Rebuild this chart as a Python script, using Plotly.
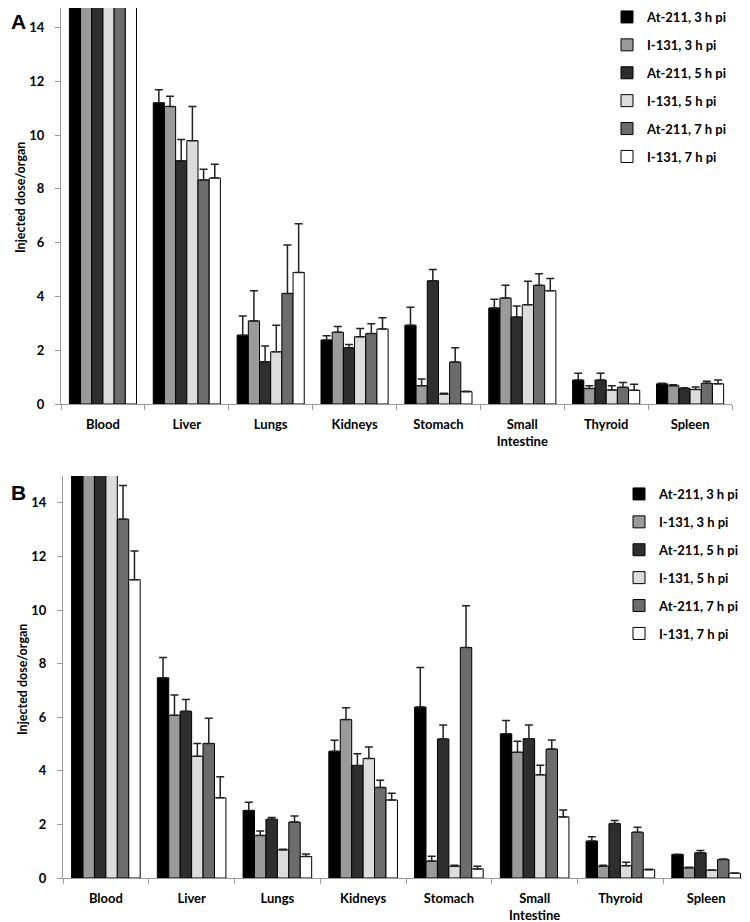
import plotly.graph_objects as go

categories = ["Blood", "Liver", "Lungs", "Kidneys", "Stomach", "Small<br>Intestine", "Thyroid", "Spleen"]
series_names = ["At-211, 3 h pi", "I-131, 3 h pi", "At-211, 5 h pi", "I-131, 5 h pi", "At-211, 7 h pi", "I-131, 7 h pi"]
series_colors = ["#000000", "#9a9a9a", "#2e2e2e", "#dcdcdc", "#6c6c6c", "#ffffff"]

# Panel A values (mean) and upper error bar lengths
a_at3 = [14.98, 11.20, 2.56, 2.38, 2.93, 3.57, 0.89, 0.75]
a_at3_err = [1.0, 0.48, 0.71, 0.16, 0.67, 0.32, 0.25, 0.02]
a_i3 = [18.0, 11.06, 3.09, 2.67, 0.68, 3.94, 0.58, 0.68]
a_i3_err = [1.0, 0.38, 1.12, 0.21, 0.25, 0.47, 0.10, 0.04]
a_at5 = [17.5, 9.04, 1.57, 2.09, 4.58, 3.23, 0.89, 0.58]
a_at5_err = [1.0, 0.79, 0.59, 0.12, 0.42, 0.41, 0.25, 0.02]
a_i5 = [17.0, 9.79, 1.94, 2.50, 0.37, 3.69, 0.52, 0.54]
a_i5_err = [1.0, 1.27, 0.99, 0.31, 0.03, 0.87, 0.16, 0.09]
a_at7 = [17.5, 8.33, 4.11, 2.62, 1.56, 4.41, 0.62, 0.77]
a_at7_err = [1.0, 0.40, 1.80, 0.36, 0.53, 0.43, 0.18, 0.08]
a_i7 = [16.5, 8.40, 4.89, 2.79, 0.46, 4.21, 0.51, 0.75]
a_i7_err = [1.0, 0.51, 1.81, 0.42, 0.01, 0.46, 0.22, 0.14]

# Panel B values (mean) and upper error bar lengths
b_at3 = [19.0, 7.47, 2.52, 4.73, 6.38, 5.38, 1.38, 0.88]
b_at3_err = [1.0, 0.76, 0.31, 0.41, 1.47, 0.50, 0.16, 0.01]
b_i3 = [19.0, 6.07, 1.59, 5.91, 0.63, 4.69, 0.44, 0.38]
b_i3_err = [1.0, 0.76, 0.16, 0.44, 0.18, 0.41, 0.04, 0.02]
b_at5 = [18.0, 6.22, 2.19, 4.20, 5.19, 5.20, 2.03, 0.94]
b_at5_err = [1.0, 0.44, 0.07, 0.44, 0.52, 0.51, 0.12, 0.09]
b_i5 = [17.0, 4.54, 1.05, 4.46, 0.44, 3.85, 0.46, 0.29]
b_i5_err = [1.0, 0.48, 0.02, 0.43, 0.04, 0.36, 0.13, 0.01]
b_at7 = [13.39, 5.02, 2.09, 3.38, 8.60, 4.81, 1.71, 0.69]
b_at7_err = [1.26, 0.94, 0.22, 0.27, 1.56, 0.34, 0.18, 0.02]
b_i7 = [11.13, 2.99, 0.80, 2.91, 0.34, 2.28, 0.31, 0.18]
b_i7_err = [1.07, 0.79, 0.10, 0.25, 0.10, 0.26, 0.02, 0.01]

y_ticks = [0, 2, 4, 6, 8, 10, 12, 14]

panel_a = [(a_at3, a_at3_err), (a_i3, a_i3_err), (a_at5, a_at5_err),
           (a_i5, a_i5_err), (a_at7, a_at7_err), (a_i7, a_i7_err)]
panel_b = [(b_at3, b_at3_err), (b_i3, b_i3_err), (b_at5, b_at5_err),
           (b_i5, b_i5_err), (b_at7, b_at7_err), (b_i7, b_i7_err)]

# the page body has an 8px default margin; size the figure so it fills the window
OFF = 8
W, H = 750 - OFF, 922 - OFF
FONT = "Lato, Calibri, Carlito, sans-serif"

fig = go.Figure()

for panel, (data, xa, ya, leg) in enumerate([(panel_a, "x", "y", "legend"), (panel_b, "x2", "y2", "legend2")]):
    for i, (vals, errs) in enumerate(data):
        fig.add_trace(go.Bar(
            x=categories, y=vals, name=series_names[i],
            xaxis=xa, yaxis=ya, legend=leg,
            legendgroup=f"p{panel}s{i}",
            marker=dict(color=series_colors[i], line=dict(color="#000000", width=1)),
            error_y=dict(type="data", array=errs, arrayminus=[0] * len(errs),
                         symmetric=False, color="#222222", thickness=1.5, width=4),
        ))

def px_x(p):
    return (p - OFF) / W

def px_y(p):
    return 1 - (p - OFF) / H

axis_common = dict(showgrid=False, zeroline=False, showline=True, linecolor="#9a9a9a", linewidth=1,
                   ticks="outside", tickcolor="#9a9a9a", ticklen=5, automargin=False,
                   tickfont=dict(family=FONT, size=13, color="#000000", weight="bold"))

# panel A: value 0 at page y=404, 26.9 px per unit; plot top clipped at page y=8
a_top = (404 - 8) / 26.9

title_font = dict(family=FONT, size=12.5, color="#000000", weight="bold")
letter_font = dict(family="Liberation Sans, Arial", size=21, color="#000000", weight="bold")

fig.update_layout(
    width=W, height=H, margin=dict(l=0, r=0, t=0, b=0, autoexpand=False),
    paper_bgcolor="white", plot_bgcolor="white",
    barmode="group", bargap=0.2, bargroupgap=0,
    xaxis=dict(domain=[px_x(61), px_x(732)], anchor="y", tickson="boundaries", ticklabelstandoff=8, **axis_common),
    yaxis=dict(domain=[px_y(404), 1.0], anchor="x", range=[0, a_top], tickvals=y_ticks, ticklabelstandoff=8, **axis_common),
    xaxis2=dict(domain=[px_x(63), px_x(749)], anchor="y2", tickson="boundaries", ticklabelstandoff=8, **axis_common),
    yaxis2=dict(domain=[px_y(878), px_y(476)], anchor="x2", range=[0, 15], tickvals=y_ticks, ticklabelstandoff=8, **axis_common),
    legend=dict(x=px_x(607), y=px_y(2), xanchor="left", yanchor="top", bgcolor="rgba(0,0,0,0)",
                font=dict(family=FONT, size=13, color="#000000", weight="bold"), tracegroupgap=8, itemclick=False),
    legend2=dict(x=px_x(619), y=px_y(479), xanchor="left", yanchor="top", bgcolor="rgba(0,0,0,0)",
                 font=dict(family=FONT, size=13, color="#000000", weight="bold"), tracegroupgap=8, itemclick=False),
    annotations=[
        dict(text="A", x=px_x(18), y=px_y(21), xref="paper", yref="paper", xanchor="center", yanchor="middle",
             showarrow=False, font=letter_font),
        dict(text="B", x=px_x(18), y=px_y(492), xref="paper", yref="paper", xanchor="center", yanchor="middle",
             showarrow=False, font=letter_font),
        dict(text="Injected dose/organ", x=px_x(21), y=px_y(198), xref="paper", yref="paper",
             xanchor="center", yanchor="middle", showarrow=False, textangle=-90, font=title_font),
        dict(text="Injected dose/organ", x=px_x(22), y=px_y(680), xref="paper", yref="paper",
             xanchor="center", yanchor="middle", showarrow=False, textangle=-90, font=title_font),
    ],
)

fig.write_html("out.html")
